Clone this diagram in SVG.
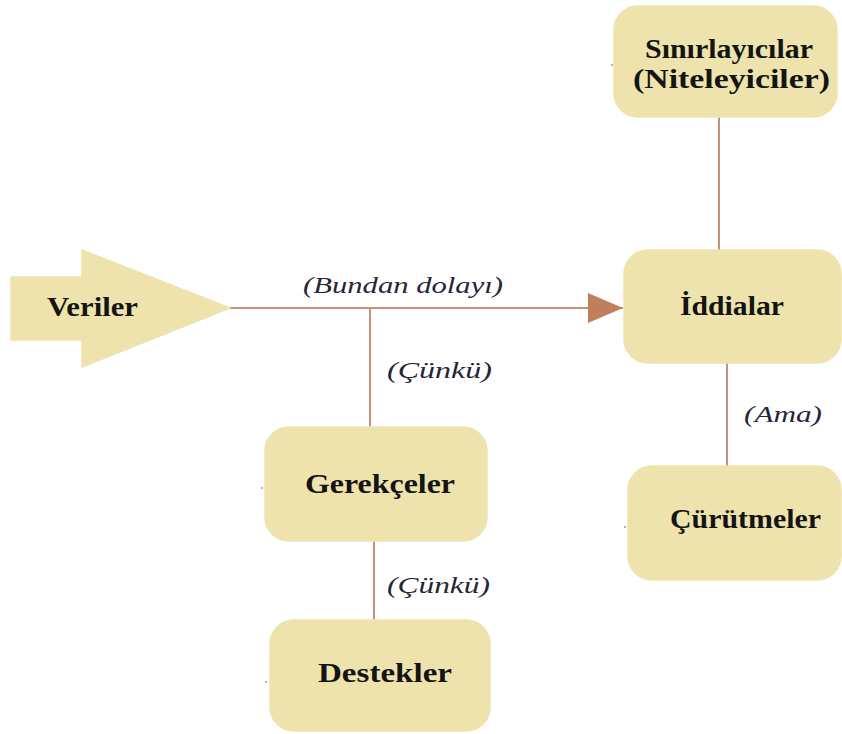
<svg xmlns="http://www.w3.org/2000/svg" width="842" height="734" viewBox="0 0 842 734">
<style>
.box{fill:#EFE3AD;stroke:#EFE3AD;stroke-width:1.5}
.lbl{font-family:"Liberation Serif","Times New Roman",serif;font-weight:bold;font-size:28px;fill:#141414}
.it{font-family:"Liberation Serif","Times New Roman",serif;font-style:italic;font-size:23px;fill:#262638}
.ln{stroke:#C4927A;stroke-width:2;fill:none}
.dot{fill:#B88470}
</style>
<defs>
<marker id="ah" markerWidth="36" markerHeight="32" refX="35" refY="16" orient="auto" markerUnits="userSpaceOnUse">
<polygon points="0,1 35,16 0,31" fill="#C07E5B"/>
</marker>
</defs>
<g id="connectors">
<line class="ln" x1="230" y1="308" x2="623" y2="308" marker-end="url(#ah)"/>
<line class="ln" x1="370" y1="308" x2="370" y2="428"/>
<line class="ln" x1="374" y1="541" x2="374" y2="621"/>
<line class="ln" x1="719" y1="117" x2="719" y2="251"/>
<line class="ln" x1="727" y1="363" x2="727" y2="467"/>
<text class="it" x="303" y="293" textLength="200" lengthAdjust="spacingAndGlyphs">(Bundan dolayı)</text>
<text class="it" x="387" y="378" textLength="105" lengthAdjust="spacingAndGlyphs">(Çünkü)</text>
<text class="it" x="387" y="593" textLength="103" lengthAdjust="spacingAndGlyphs">(Çünkü)</text>
<text class="it" x="744" y="422" textLength="78" lengthAdjust="spacingAndGlyphs">(Ama)</text>
</g>
<g id="veriler">
<polygon class="box" stroke-linejoin="round" points="11,277 82,277 82,250 230,308 82,367 82,340 11,340"/>
<text class="lbl" x="47" y="316" textLength="91" lengthAdjust="spacingAndGlyphs">Veriler</text>
</g>
<g id="sinirlayicilar">
<rect class="box" x="614" y="6" width="223" height="111" rx="24"/>
<text class="lbl" x="645" y="58" textLength="168" lengthAdjust="spacingAndGlyphs">Sınırlayıcılar</text>
<text class="lbl" x="633" y="88" textLength="197" lengthAdjust="spacingAndGlyphs">(Niteleyiciler)</text>
<circle class="dot" cx="612" cy="65" r="0.9"/>
</g>
<g id="iddialar">
<rect class="box" x="624" y="250" width="217" height="113" rx="24"/>
<text class="lbl" x="680" y="315" textLength="104" lengthAdjust="spacingAndGlyphs">İddialar</text>
</g>
<g id="curutmeler">
<rect class="box" x="628" y="466" width="213" height="114" rx="24"/>
<text class="lbl" x="670" y="528" textLength="151" lengthAdjust="spacingAndGlyphs">Çürütmeler</text>
<circle class="dot" cx="625" cy="527" r="0.9"/>
</g>
<g id="gerekceler">
<rect class="box" x="265" y="427" width="222" height="114" rx="24"/>
<text class="lbl" x="305" y="493" textLength="150" lengthAdjust="spacingAndGlyphs">Gerekçeler</text>
<circle class="dot" cx="262" cy="488" r="0.9"/>
</g>
<g id="destekler">
<rect class="box" x="270" y="620" width="220" height="111" rx="24"/>
<text class="lbl" x="318" y="682" textLength="134" lengthAdjust="spacingAndGlyphs">Destekler</text>
<circle class="dot" cx="266" cy="682" r="0.9"/>
</g>
</svg>
